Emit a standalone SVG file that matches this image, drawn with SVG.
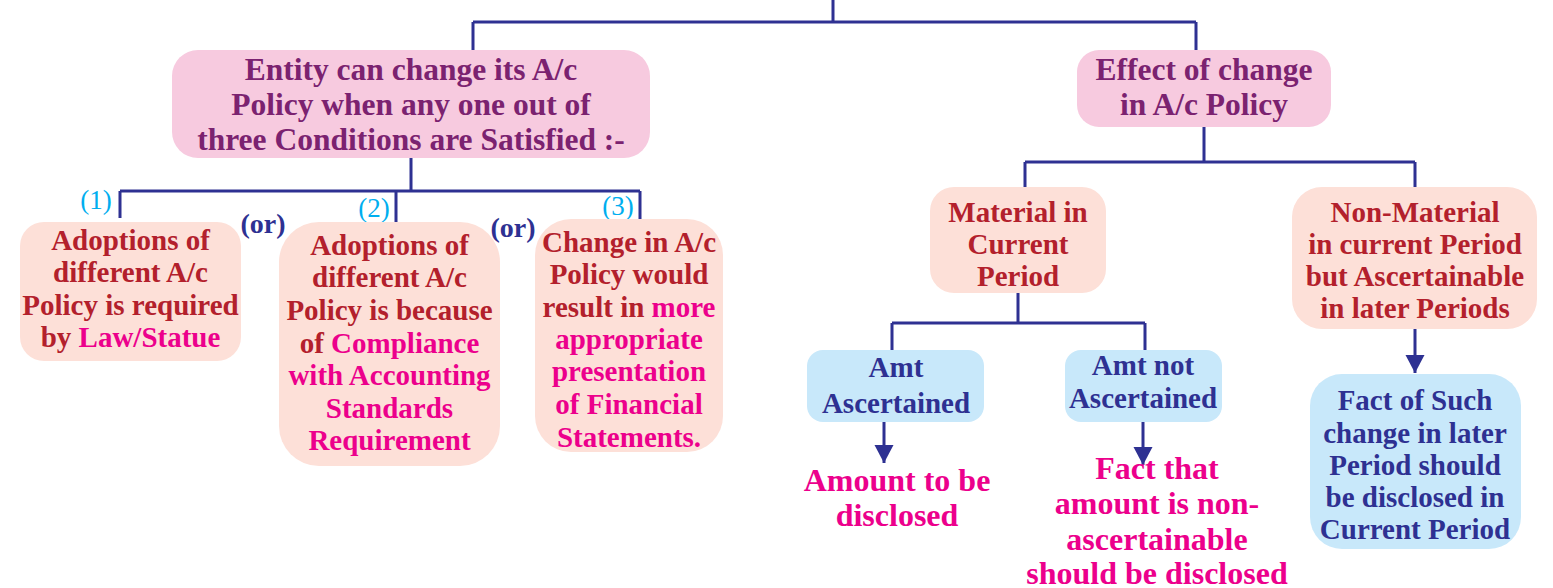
<svg xmlns="http://www.w3.org/2000/svg" width="1553" height="588" viewBox="0 0 1553 588" font-family="Liberation Serif, Times New Roman, serif">
  <style>
    text { font-family: "Liberation Serif", "Times New Roman", serif; font-weight: bold; text-anchor: middle; }
    .head { fill: #F7CADF; }
    .peach { fill: #FDE0D8; }
    .blue { fill: #C8E8FA; }
    .t-head { font-size: 31.5px; fill: #7B2270; }
    .t-red { font-size: 29px; fill: #B3202C; }
    .t-navy { font-size: 29px; fill: #2E3192; }
    .t-out { font-size: 32px; fill: #EC008C; }
    .mag { fill: #EC008C; }
    .num { font-size: 27px; font-weight: normal; fill: #00AEEF; }
    .or { font-size: 28px; fill: #2E3192; }
    .wire { fill: none; stroke: #2E3192; stroke-width: 3; }
  </style>
  <defs>
    <marker id="arrow" markerUnits="userSpaceOnUse" markerWidth="20" markerHeight="20" refX="18" refY="10" orient="auto">
      <path d="M0,0.5 L18,10 L0,19.5 Z" fill="#2E3192"/>
    </marker>
  </defs>

  <!-- connectors -->
  <g id="connectors">
    <path class="wire" d="M833,0 V22 M473,22 H1196 M473,22 V50 M1196,22 V50"/>
    <path class="wire" d="M411,158 V191 M120,191 H640 M120,191 V218 M396,191 V222 M640,191 V219"/>
    <path class="wire" d="M1204,127 V162 M1025,162 H1415 M1025,162 V188 M1415,162 V188"/>
    <path class="wire" d="M1018,293 V323 M892,323 H1145 M892,323 V350 M1145,323 V350"/>
    <path class="wire" d="M1415,329 V373" marker-end="url(#arrow)"/>
    <path class="wire" d="M884,422 V463" marker-end="url(#arrow)"/>
    <path class="wire" d="M1143,422 V465" marker-end="url(#arrow)"/>
  </g>

  <!-- condition labels -->
  <g id="labels">
    <text class="num" x="96" y="209">(1)</text>
    <text class="num" x="374" y="217">(2)</text>
    <text class="num" x="618" y="215">(3)</text>
    <text class="or" x="263" y="233">(or)</text>
    <text class="or" x="513" y="237">(or)</text>
  </g>

  <g id="entity">
    <rect class="head" x="172" y="50" width="478" height="108" rx="26"/>
    <text class="t-head" x="411" y="80">Entity can change its A/c</text>
    <text class="t-head" x="411" y="115">Policy when any one out of</text>
    <text class="t-head" x="411" y="150">three Conditions are Satisfied :-</text>
  </g>

  <g id="effect">
    <rect class="head" x="1077" y="50" width="254" height="77" rx="22"/>
    <text class="t-head" x="1204" y="80">Effect of change</text>
    <text class="t-head" x="1204" y="115">in A/c Policy</text>
  </g>

  <g id="cond1">
    <rect class="peach" x="20" y="222" width="221" height="139" rx="24"/>
    <text class="t-red" x="130.5" y="250">Adoptions of</text>
    <text class="t-red" x="130.5" y="282">different A/c</text>
    <text class="t-red" x="130.5" y="315">Policy is required</text>
    <text class="t-red" x="130.5" y="347">by <tspan class="mag">Law/Statue</tspan></text>
  </g>

  <g id="cond2">
    <rect class="peach" x="279" y="222" width="221" height="244" rx="40"/>
    <text class="t-red" x="389.5" y="255">Adoptions of</text>
    <text class="t-red" x="389.5" y="287">different A/c</text>
    <text class="t-red" x="389.5" y="320">Policy is because</text>
    <text class="t-red" x="389.5" y="353">of <tspan class="mag">Compliance</tspan></text>
    <text class="t-red mag" x="389.5" y="385">with Accounting</text>
    <text class="t-red mag" x="389.5" y="418">Standards</text>
    <text class="t-red mag" x="389.5" y="450">Requirement</text>
  </g>

  <g id="cond3">
    <rect class="peach" x="535" y="219" width="188" height="233" rx="36"/>
    <text class="t-red" x="629" y="252">Change in A/c</text>
    <text class="t-red" x="629" y="284">Policy would</text>
    <text class="t-red" x="629" y="317">result in <tspan class="mag">more</tspan></text>
    <text class="t-red mag" x="629" y="349">appropriate</text>
    <text class="t-red mag" x="629" y="381">presentation</text>
    <text class="t-red mag" x="629" y="414">of Financial</text>
    <text class="t-red mag" x="629" y="447">Statements.</text>
  </g>

  <g id="material">
    <rect class="peach" x="930" y="187" width="176" height="106" rx="24"/>
    <text class="t-red" x="1018" y="222">Material in</text>
    <text class="t-red" x="1018" y="254">Current</text>
    <text class="t-red" x="1018" y="286">Period</text>
  </g>

  <g id="nonmaterial">
    <rect class="peach" x="1292" y="187" width="245" height="142" rx="30"/>
    <text class="t-red" x="1415" y="222">Non-Material</text>
    <text class="t-red" x="1415" y="254">in current Period</text>
    <text class="t-red" x="1415" y="286">but Ascertainable</text>
    <text class="t-red" x="1415" y="318">in later Periods</text>
  </g>

  <g id="amt-ascertained">
    <rect class="blue" x="807" y="350" width="177" height="72" rx="16"/>
    <text class="t-navy" x="896" y="377">Amt</text>
    <text class="t-navy" x="896" y="413">Ascertained</text>
  </g>

  <g id="amt-not-ascertained">
    <rect class="blue" x="1065" y="350" width="157" height="72" rx="16"/>
    <text class="t-navy" x="1143" y="375">Amt not</text>
    <text class="t-navy" x="1143" y="408">Ascertained</text>
  </g>

  <g id="fact-later">
    <rect class="blue" x="1310" y="374" width="211" height="175" rx="32"/>
    <text class="t-navy" x="1415" y="410">Fact of Such</text>
    <text class="t-navy" x="1415" y="443">change in later</text>
    <text class="t-navy" x="1415" y="475">Period should</text>
    <text class="t-navy" x="1415" y="507">be disclosed in</text>
    <text class="t-navy" x="1415" y="539">Current Period</text>
  </g>

  <g id="amount-disclosed">
    <text class="t-out" x="897" y="491">Amount to be</text>
    <text class="t-out" x="897" y="526">disclosed</text>
  </g>

  <g id="fact-disclosed">
    <text class="t-out" x="1157" y="479">Fact that</text>
    <text class="t-out" x="1157" y="514">amount is non-</text>
    <text class="t-out" x="1157" y="550">ascertainable</text>
    <text class="t-out" x="1157" y="584">should be disclosed</text>
  </g>
</svg>
